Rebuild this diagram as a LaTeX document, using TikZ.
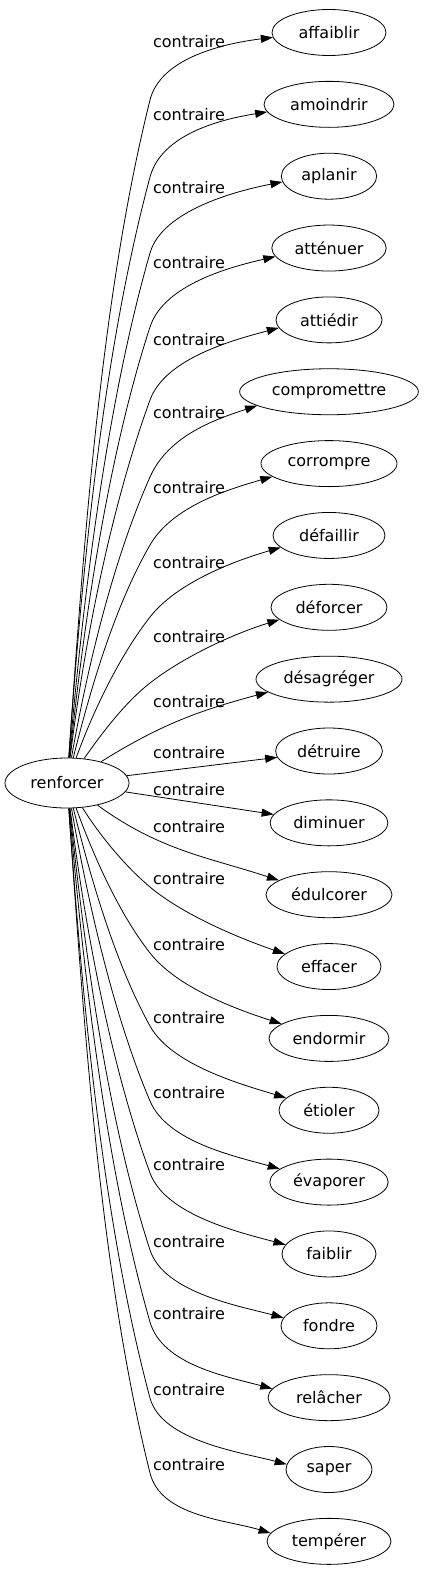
\documentclass[tikz,border=0pt]{standalone}
\usepackage{fontspec}
\setmainfont{DejaVu Sans}
\usetikzlibrary{shapes.geometric,arrows.meta}
\begin{document}
\begin{tikzpicture}[x=1pt,y=1pt,
  every node/.style={font=\fontsize{16}{19}\selectfont},
  word/.style={ellipse,draw,line width=0.8pt,inner xsep=6pt,inner ysep=0pt,minimum height=46pt},
  rel/.style={inner sep=0pt},
  edge/.style={draw,line width=0.8pt,-{Triangle[length=12pt,width=8pt]}}]
\useasboundingbox (0,0) rectangle (423,-1571);
\node[word,minimum width=124pt,minimum height=50pt] (r) at (67,-783) {renforcer};
\foreach \i/\w/\mw in {0/affaiblir/114,1/amoindrir/130,2/aplanir/94,3/atténuer/114,4/attiédir/106,5/compromettre/176,6/corrompre/136,7/défaillir/112,8/déforcer/116,9/désagréger/146,10/détruire/106,11/diminuer/114,12/édulcorer/126,13/effacer/104,14/endormir/120,15/étioler/100,16/évaporer/114,17/faiblir/94,18/fondre/96,19/relâcher/122,20/saper/86,21/tempérer/124} {
  \pgfmathsetmacro\ty{-(32.5+71.85*\i)}
  \node[word,minimum width=\mw pt] (t\i) at (329,\ty) {\w};
}
\foreach \i/\ly in {0/42,1/115,2/188,3/263,4/340,5/413,6/488,7/563,8/637,9/702,10/753,11/790,12/827,13/879,14/945,15/1018,16/1093,17/1165,18/1242,19/1314,20/1390,21/1465} {
  \node[rel] (l\i) at (189,-\ly) {contraire};
}
\foreach \i/\by/\oa/\tb/\ph/\ti in {0/100/86/76/185/187,1/177/86/75/187/189,2/253/85/74/187/191,3/327/84/72/189/193,4/400/83/70/189/195,5/477/80/66/191/198,6/545/76/60/193/196,7/617/70/52/194/196,8/683/55/38/194/197,13/887/-58/-40/164/161,14/953/-70/-52/163/162,15/1026/-76/-61/164/163,16/1101/-80/-67/165/164,17/1173/-83/-70/168/165,18/1250/-84/-72/170/165,19/1322/-85/-74/171/165,20/1398/-86/-75/173/165,21/1473/-86/-76/172/163} {
  \pgfmathsetmacro\ib{\tb+180}
  \coordinate (b\i) at (150,-\by);
  \draw[edge] (r) to[out=\oa,in=\ib,looseness=0.8] (b\i) .. controls +(\tb:45) and +(\ti:45) .. (t\i.\ph);
}
\draw[edge] (r) to[out=32,in=195] (t9.192);
\draw[edge] (r) -- (t10);
\draw[edge] (r) -- (t11);
\draw[edge] (r) to[out=-36,in=162] (t12.164);
\end{tikzpicture}
\end{document}
